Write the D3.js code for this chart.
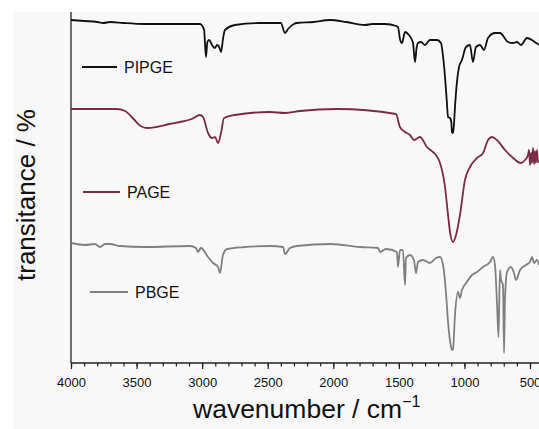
<!DOCTYPE html>
<html>
<head>
<meta charset="utf-8">
<script src="https://cdn.jsdelivr.net/npm/d3@7"></script>
<style>
  body { margin: 0; background: #fff; }
  text { font-family: "Liberation Sans", Arial, sans-serif; fill: #111; }
</style>
</head>
<body>
<div id="chart"></div>
<script>
// Spectra: [wavenumber (cm-1), transmittance (a.u., offset stacked)]
var pipge = [
  [4000, 343], [3900, 342], [3800, 341], [3756, 340], [3700, 341], [3600, 340],
  [3436, 339], [3200, 339], [3016, 339], [2985, 333], [2971, 306], [2960, 321],
  [2948, 323], [2920, 317], [2902, 315], [2887, 318], [2870, 316], [2856, 311],
  [2840, 325], [2826, 333], [2750, 338], [2559, 340], [2483, 340], [2400, 340],
  [2368, 330], [2345, 334], [2300, 339], [2277, 340], [2150, 341], [2025, 343],
  [1900, 341], [1758, 338], [1700, 339], [1606, 339], [1520, 337], [1507, 336],
  [1490, 323], [1476, 320], [1453, 331], [1423, 328], [1400, 323], [1392, 320],
  [1377, 301], [1365, 315], [1354, 320], [1331, 321], [1301, 318], [1263, 323],
  [1209, 323], [1179, 320], [1160, 303], [1148, 286], [1135, 263], [1125, 246],
  [1110, 245], [1100, 241], [1095, 231], [1087, 230], [1080, 238], [1072, 256],
  [1041, 296], [1019, 303], [988, 316], [958, 318], [935, 301], [912, 316],
  [881, 318], [851, 313], [820, 325], [767, 330], [729, 330], [668, 321],
  [630, 320], [599, 321], [569, 318], [523, 325], [485, 323], [454, 320], [424, 318]
];

var page = [
  [4000, 254], [3800, 254], [3650, 254], [3588, 252], [3530, 245], [3470, 237],
  [3420, 235], [3350, 236], [3250, 239], [3169, 241], [3080, 244], [3016, 248],
  [2993, 246], [2955, 230], [2925, 225], [2902, 226], [2879, 220], [2856, 230],
  [2833, 245], [2750, 248], [2483, 251], [2368, 250], [2254, 252], [1972, 254],
  [1522, 249], [1492, 236], [1453, 231], [1415, 228], [1385, 223], [1339, 226],
  [1286, 216], [1240, 211], [1217, 208], [1186, 200], [1148, 176], [1125, 148],
  [1110, 131], [1087, 121], [1064, 128], [1034, 148], [996, 183], [958, 196],
  [904, 205], [858, 210], [820, 223], [790, 226], [752, 223], [691, 213],
  [637, 206], [569, 200], [538, 203], [515, 208], [508, 213], [500, 198],
  [492, 210], [485, 200], [477, 215], [469, 199], [462, 212], [455, 200],
  [447, 213], [439, 201], [431, 201]
];

var pbge = [
  [4000, 120], [3893, 118], [3817, 119], [3779, 116], [3740, 119], [3703, 119],
  [3626, 117], [3436, 116], [3093, 117], [3047, 115], [3032, 111], [3009, 115],
  [2955, 106], [2917, 100], [2879, 96], [2864, 90], [2841, 108], [2811, 114],
  [2673, 116], [2483, 117], [2383, 116], [2368, 109], [2330, 115], [2277, 117],
  [2018, 119], [1796, 116], [1659, 115], [1644, 111], [1598, 114], [1514, 111],
  [1507, 96], [1491, 113], [1469, 113], [1453, 78], [1446, 105], [1415, 108],
  [1385, 103], [1369, 90], [1354, 101], [1316, 103], [1263, 100], [1217, 105],
  [1186, 106], [1163, 98], [1141, 71], [1125, 41], [1102, 16], [1095, 13],
  [1087, 14], [1072, 48], [1049, 71], [1034, 65], [1019, 73], [981, 81],
  [942, 88], [904, 91], [858, 96], [805, 101], [782, 106], [767, 98],
  [752, 61], [740, 26], [729, 93], [721, 83], [706, 78], [698, 10],
  [691, 63], [675, 91], [645, 96], [622, 90], [607, 83], [576, 93],
  [531, 98], [500, 101], [485, 106], [469, 100], [447, 103], [431, 98]
];

var seriesNames = ["PIPGE", "PAGE", "PBGE"];
var seriesColors = ["#111111", "#7a2b45", "#808080"];
var majorTicks = [4000, 3500, 3000, 2500, 2000, 1500, 1000, 500];
var minorTicks = d3.range(4000, 400, -100);

var w = 539;
var h = 429;

var svg = d3.select("#chart")
    .append("svg")
    .attr("width", w)
    .attr("height", h);

// light grey canvas like the scanned figure
svg.append("rect")
    .attr("x", 13)
    .attr("y", 12)
    .attr("width", w - 13)
    .attr("height", h - 12)
    .attr("fill", "#f8f8f8");

var x = d3.scaleLinear()
    .domain([4000, 500])
    .range([71, 530]);

var y = d3.scaleLinear()
    .domain([0, 351])
    .range([363, 12]);

// minor ticks
svg.append("g")
    .attr("transform", "translate(0,363)")
    .call(d3.axisBottom(x).tickValues(minorTicks).tickSize(3.5).tickFormat(""))
    .call(function (g) { g.select(".domain").remove(); })
    .selectAll("line").attr("stroke", "#222").attr("stroke-width", 1.2);

// major ticks + labels
var xAxis = svg.append("g")
    .attr("transform", "translate(0,363)")
    .call(d3.axisBottom(x).tickValues(majorTicks).tickFormat(d3.format("d"))
        .tickSize(6).tickPadding(9).tickSizeOuter(0));

xAxis.select(".domain").remove();
xAxis.selectAll("line").attr("stroke", "#222").attr("stroke-width", 1.2);
xAxis.selectAll("text")
    .attr("font-size", 13)
    .attr("font-family", "Liberation Sans, Arial, sans-serif")
    .attr("fill", "#111");

// axis lines
svg.append("line")
    .attr("x1", 71).attr("x2", w)
    .attr("y1", 363).attr("y2", 363)
    .attr("stroke", "#222").attr("stroke-width", 1.3);

svg.append("line")
    .attr("x1", 71).attr("x2", 71)
    .attr("y1", 12).attr("y2", 363)
    .attr("stroke", "#222").attr("stroke-width", 1.3);

// spectra
var line = d3.line()
    .curve(d3.curveMonotoneX)
    .x(function (d) { return x(d[0]); })
    .y(function (d) { return y(d[1]); });

svg.append("clipPath")
    .attr("id", "plot")
    .append("rect")
    .attr("x", 71).attr("y", 0)
    .attr("width", w - 71).attr("height", 363);

[pipge, page, pbge].forEach(function (data, i) {
    svg.append("path")
        .datum(data)
        .attr("clip-path", "url(#plot)")
        .attr("fill", "none")
        .attr("stroke", seriesColors[i])
        .attr("stroke-width", 1.8)
        .attr("stroke-linejoin", "round")
        .attr("d", line);
});

// legend labels sitting under each trace
var legendPos = [[82, 67], [83, 192], [90, 292]];
var legendLen = [35, 37, 38];

seriesNames.forEach(function (name, i) {
    var p = legendPos[i];
    svg.append("line")
        .attr("x1", p[0]).attr("x2", p[0] + legendLen[i])
        .attr("y1", p[1]).attr("y2", p[1])
        .attr("stroke", seriesColors[i])
        .attr("stroke-width", 1.8);
    svg.append("text")
        .attr("x", p[0] + legendLen[i] + 7)
        .attr("y", p[1] + 6)
        .attr("font-size", 16)
        .text(name);
});

// axis titles
var xTitle = svg.append("text")
    .attr("x", 193)
    .attr("y", 418)
    .attr("font-size", 26.5);
xTitle.append("tspan").text("wavenumber / cm");
xTitle.append("tspan")
    .attr("dy", -11)
    .attr("font-size", 16)
    .text("\u22121");

svg.append("text")
    .attr("transform", "translate(35,195) rotate(-90)")
    .attr("text-anchor", "middle")
    .attr("font-size", 26)
    .text("transitance / %");
</script>
</body>
</html>
